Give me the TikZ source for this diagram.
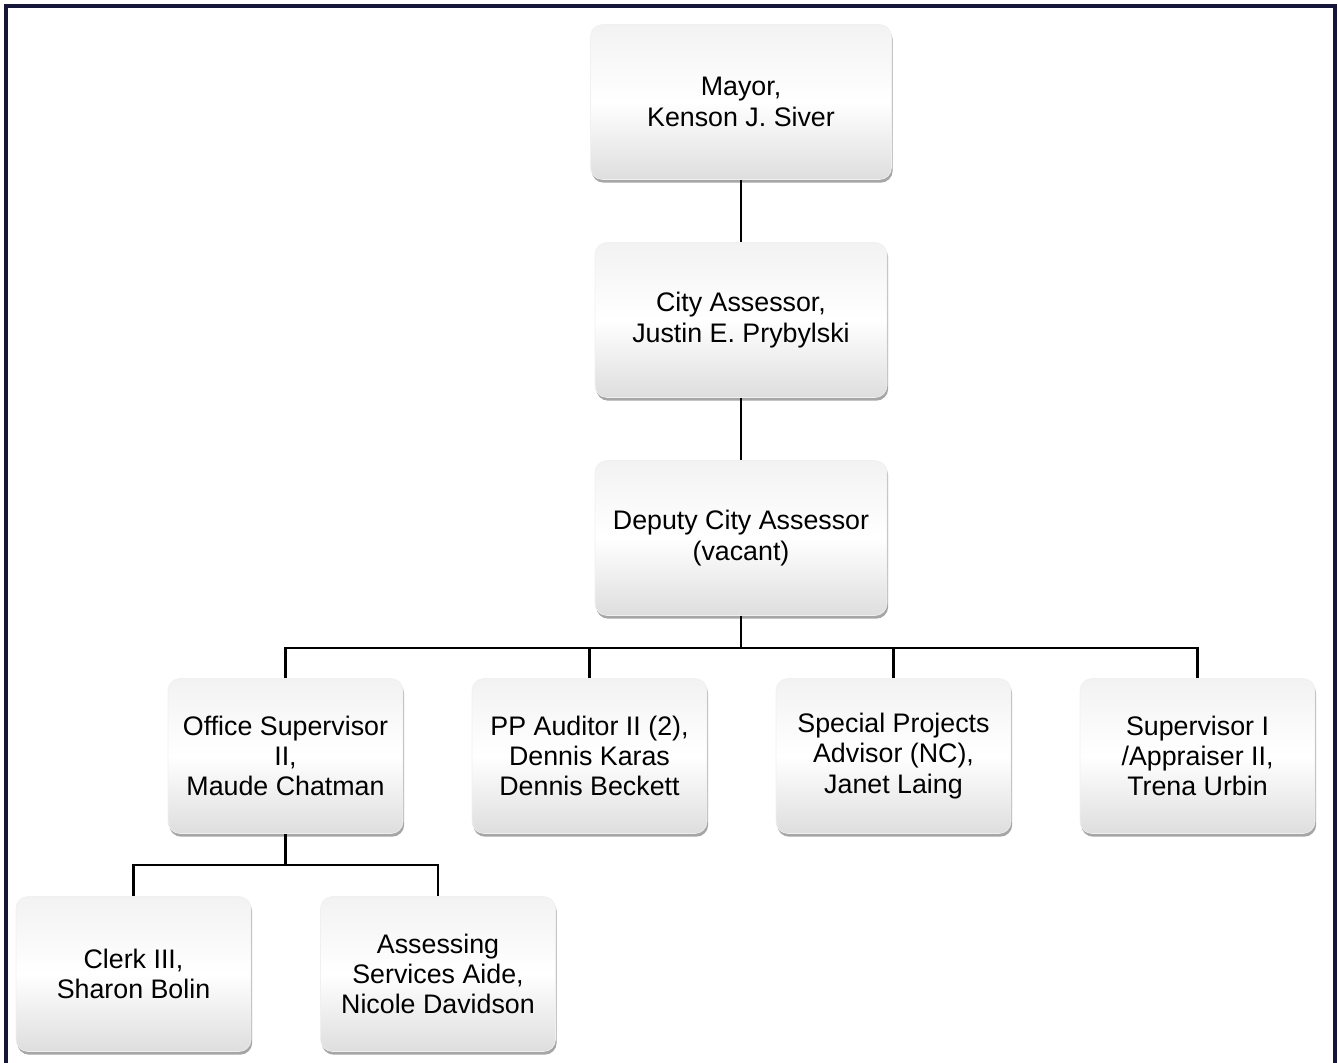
\documentclass[tikz,border=0pt]{standalone}
\usepackage{fontspec}
\setmainfont{Liberation Sans}
\usepackage{xcolor}
\usepackage{tikz}
\usetikzlibrary{positioning, shapes, shadows, calc}
\definecolor{framenavy}{HTML}{16163A}

\begin{document}
\begin{tikzpicture}[
    x=0.5pt, y=-0.5pt,
    post/.style={rectangle, rounded corners=6pt, draw=black!6, line width=0.3pt,
        top color=black!5, bottom color=black!13, middle color=white,
        minimum height=77.5pt, align=center, inner sep=2pt,
        font=\fontsize{13.4}{15.2}\selectfont,
        drop shadow={shadow xshift=0.6pt, shadow yshift=-1.6pt, opacity=0.35, fill=black}},
    wide/.style={minimum width=146pt},
    narrow/.style={minimum width=117.5pt},
    link/.style={line width=1.25pt, black}
]
\useasboundingbox (0,0) rectangle (1338,1063);

% Rahmen
\draw[line width=2pt, framenavy] (6,1075) -- (6,6) -- (1335,6) -- (1335,1075);

% Leitung
\node[post, minimum width=150.5pt] (mayor) at (741,102) {Mayor,\\Kenson J. Siver};
\node[post, wide] (assessor) at (741,320) {City Assessor,\\Justin E. Prybylski};
\node[post, wide] (deputy) at (741,538) {Deputy City Assessor\\(vacant)};

% Abteilungen
\node[post, narrow] (officesup) at (285.5,756) {Office Supervisor\\II,\\Maude Chatman};
\node[post, narrow] (auditor) at (589.5,756) {PP Auditor II (2),\\Dennis Karas\\Dennis Beckett};
\node[post, narrow] (projects) at (893.5,756) {Special Projects\\Advisor (NC),\\Janet Laing};
\node[post, narrow] (supervisor) at (1197.5,756) {Supervisor I\\/Appraiser II,\\Trena Urbin};

% Mitarbeiter
\node[post, narrow] (clerk) at (133.5,974) {Clerk III,\\Sharon Bolin};
\node[post, narrow] (aide) at (438,974) {Assessing\\Services Aide,\\Nicole Davidson};

% Verbindungen
\draw[link] (mayor) -- (assessor);
\draw[link] (assessor) -- (deputy);
\foreach \n in {officesup, auditor, projects, supervisor}
    \draw[link] (deputy.south) -- ++(0,32) -| (\n.north);
\foreach \n in {clerk, aide}
    \draw[link] (officesup.south) -- ++(0,31) -| (\n.north);

\end{tikzpicture}
\end{document}
